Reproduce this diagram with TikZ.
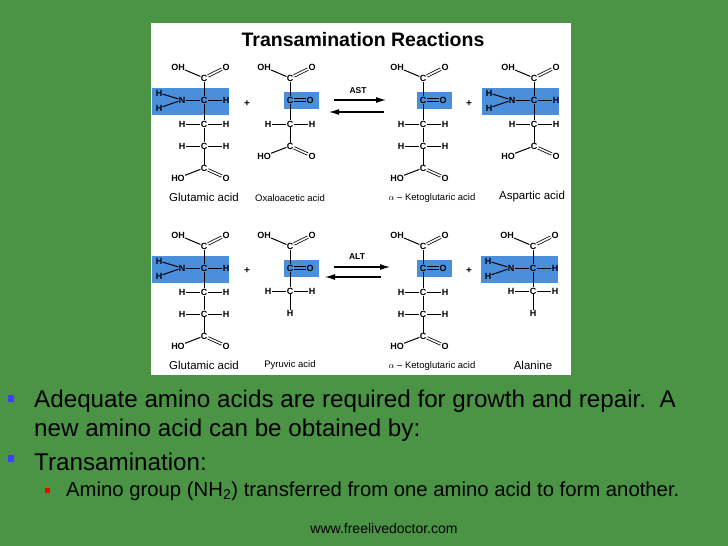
\documentclass[tikz,border=0pt]{standalone}
\usepackage{fontspec}
\setmainfont{Liberation Sans}
\usetikzlibrary{arrows.meta}
\begin{document}
\begin{tikzpicture}[x=1pt,y=-1pt,
  atm/.style={inner sep=0.6pt,font=\fontsize{9}{10}\selectfont\bfseries},
  bd/.style={line width=1pt,shorten <=-0.5pt,shorten >=-0.5pt},
  dbd/.style={line width=0.8pt,double=white,double distance=1.6pt},
  lbl/.style={font=\fontsize{9.5}{11}\selectfont},
  lblb/.style={font=\fontsize{11.5}{13}\selectfont},
  arr/.style={line width=1.1pt,-{Latex[length=10pt,width=6pt]}},
  plus/.style={font=\fontsize{10}{10}\selectfont\bfseries,inner sep=0pt}]
\definecolor{bg}{HTML}{4B9446}
\definecolor{hlblue}{HTML}{4A8FDB}
\fill[bg] (0,0) rectangle (728,546);
\useasboundingbox (0,0) rectangle (728,546);
\fill[white] (151,23) rectangle (571,375);
\node[font=\fontsize{19.5}{22}\selectfont\bfseries] (title) at (363,40) {Transamination Reactions};
\newcommand\TopAcid[3]{%
 \node[atm] (#1c) at (#2,#3) {C};
 \node[atm] (#1oh) at (#2-26,#3-11) {OH};
 \node[atm] (#1o) at (#2+22,#3-11) {O};
 \draw[bd] (#1oh) -- (#1c); \draw[dbd] (#1c) -- (#1o);}
\newcommand\BotAcid[3]{%
 \node[atm] (#1c) at (#2,#3) {C};
 \node[atm] (#1oh) at (#2-26,#3+10) {HO};
 \node[atm] (#1o) at (#2+22,#3+10) {O};
 \draw[bd] (#1oh) -- (#1c); \draw[dbd] (#1c) -- (#1o);}
\newcommand\HCH[3]{%
 \node[atm] (#1c) at (#2,#3) {C};
 \node[atm] (#1l) at (#2-22,#3) {H};
 \node[atm] (#1r) at (#2+22,#3) {H};
 \draw[bd] (#1l) -- (#1c) -- (#1r);}
\newcommand\Keto[3]{%
 \fill[hlblue] (#2-6,#3-8) rectangle (#2+29,#3+9);
 \node[atm] (#1c) at (#2,#3) {C};
 \node[atm] (#1o) at (#2+20,#3) {O};
 \draw[dbd,double=hlblue] (#1c) -- (#1o);}
\newcommand\Amine[3]{%
 \fill[hlblue] (#2-52,#3-12) rectangle (#2+25,#3+15);
 \node[atm] (#1c) at (#2,#3) {C};
 \node[atm] (#1n) at (#2-22,#3) {N};
 \node[atm] (#1ha) at (#2-45,#3-7) {H};
 \node[atm] (#1hb) at (#2-45,#3+8) {H};
 \node[atm] (#1r) at (#2+22,#3) {H};
 \draw[bd] (#1ha) -- (#1n); \draw[bd] (#1hb) -- (#1n);
 \draw[bd] (#1n) -- (#1c) -- (#1r);}
\newcommand\Glu[2]{%
 \TopAcid{#1a}{204}{#2}\Amine{#1b}{204}{#2+22}\HCH{#1d}{204}{#2+46}\HCH{#1e}{204}{#2+68}\BotAcid{#1f}{204}{#2+90}
 \draw[bd] (#1ac)--(#1bc)--(#1dc)--(#1ec)--(#1fc);
 \node[lblb] (#1lab) at (204,#2+119) {Glutamic acid};}
\newcommand\AKG[2]{%
 \TopAcid{#1a}{423}{#2}\Keto{#1b}{423}{#2+22}\HCH{#1d}{423}{#2+46}\HCH{#1e}{423}{#2+68}\BotAcid{#1f}{423}{#2+90}
 \draw[bd] (#1ac)--(#1bc)--(#1dc)--(#1ec)--(#1fc);
 \node[lbl] (#1lab) at (432,#2+120) {$\alpha$ -- Ketoglutaric acid};}
% reaction 1
\Glu{g}{78}
\TopAcid{oa}{290}{78}\Keto{ob}{290}{100}\HCH{od}{290}{124}\BotAcid{of}{290}{146}
\draw[bd] (oac)--(obc)--(odc)--(ofc);
\node[lbl] (olab) at (290,198) {Oxaloacetic acid};
\node[plus] (p1) at (247,104) {+};
\coordinate (a1s) at (334,100); \coordinate (a1e) at (386,100);
\coordinate (b1s) at (384,112); \coordinate (b1e) at (329,112);
\draw[arr] (a1s) -- (a1e); \draw[arr] (b1s) -- (b1e);
\node[font=\fontsize{8.5}{9}\selectfont\bfseries] (ast) at (358,91) {AST};
\AKG{k}{78}
\node[plus] (p2) at (469,104) {+};
\TopAcid{aa}{534}{78}\Amine{ab}{534}{100}\HCH{ad}{534}{124}\BotAcid{af}{534}{146}
\draw[bd] (aac)--(abc)--(adc)--(afc);
\node[lblb] (alab) at (532,197) {Aspartic acid};
% reaction 2
\Glu{h}{246}
\TopAcid{pa}{290}{246}\Keto{pb}{290}{268}\HCH{pd}{290}{291}
\node[atm] (ph) at (290,313) {H};
\draw[bd] (pac)--(pbc)--(pdc)--(ph);
\node[lbl] (plab) at (290,365) {Pyruvic acid};
\node[plus] (p3) at (247,271) {+};
\coordinate (a2s) at (334,267); \coordinate (a2e) at (390,267);
\coordinate (b2s) at (381,277); \coordinate (b2e) at (325,277);
\draw[arr] (a2s) -- (a2e); \draw[arr] (b2s) -- (b2e);
\node[font=\fontsize{8.5}{9}\selectfont\bfseries] (alt) at (357,257) {ALT};
\AKG{m}{246}
\node[plus] (p4) at (469,271) {+};
\TopAcid{la}{533}{246}\Amine{lb}{533}{268}\HCH{ld}{533}{291}
\node[atm] (lh) at (533,313) {H};
\draw[bd] (lac)--(lbc)--(ldc)--(lh);
\node[lblb] (llab) at (533,365) {Alanine};
% bullets
\fill[blue!75!white] (8,395) rectangle (14,402);
\fill[blue!75!white] (8,455) rectangle (14,462);
\fill[red] (45,488) rectangle (50,493);
\node[anchor=west,inner sep=0pt,font=\fontsize{24.2}{27}\selectfont] (t1) at (34,401) {Adequate amino acids are required for growth and repair.\ \ A};
\node[anchor=west,inner sep=0pt,font=\fontsize{24.2}{27}\selectfont] (t2) at (34,430) {new amino acid can be obtained by:};
\node[anchor=west,inner sep=0pt,font=\fontsize{24.2}{27}\selectfont] (t3) at (34,462) {Transamination:};
\node[anchor=west,inner sep=0pt,font=\fontsize{20.3}{23}\selectfont] (t4) at (66,491) {Amino group (NH\textsubscript{2}) transferred from one amino acid to form another.};
\node[font=\fontsize{14}{16}\selectfont] (url) at (384,528) {www.freelivedoctor.com};
\end{tikzpicture}
\end{document}
